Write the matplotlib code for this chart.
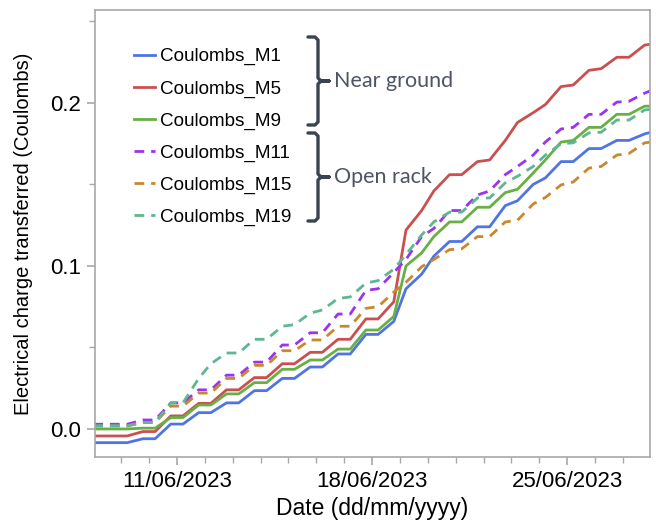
import matplotlib
matplotlib.use("Agg")
import matplotlib.pyplot as plt
import matplotlib.dates as mdates
from matplotlib.lines import Line2D
import pandas as pd

plt.rcParams['font.family'] = ['Liberation Sans', 'DejaVu Sans']

# sample times: start, then early-morning / evening points of each day, end
days = pd.date_range('2023-06-08', '2023-06-27', freq='D')
times = [pd.Timestamp('2023-06-08')]
for d in days:
    times += [d + pd.Timedelta(hours=5, minutes=15), d + pd.Timedelta(hours=18, minutes=45)]
times.append(pd.Timestamp('2023-06-28'))

# values (Coulombs)
m1 = [-0.0084, -0.0084, -0.0084, -0.0084, -0.006, -0.006, 0.003, 0.003, 0.010,
      0.010, 0.016, 0.016, 0.0235, 0.0235, 0.031, 0.031, 0.038, 0.038, 0.046,
      0.046, 0.058, 0.058, 0.066, 0.086, 0.095, 0.106, 0.115, 0.115, 0.124,
      0.124, 0.137, 0.140, 0.150, 0.154, 0.164, 0.164, 0.172, 0.172, 0.177,
      0.177, 0.181, 0.182]
m5 = [-0.0043, -0.0043, -0.0043, -0.0043, -0.0016, -0.0016, 0.008, 0.008, 0.0157,
      0.0157, 0.024, 0.024, 0.0315, 0.0315, 0.040, 0.040, 0.047, 0.047, 0.055,
      0.055, 0.0675, 0.0675, 0.078, 0.122, 0.134, 0.146, 0.156, 0.156, 0.164,
      0.165, 0.177, 0.188, 0.194, 0.199, 0.210, 0.211, 0.220, 0.221, 0.228,
      0.228, 0.2355, 0.236]
m9 = [0.0, 0.0, 0.0, 0.0, 0.0005, 0.0005, 0.007, 0.007, 0.0147,
      0.0147, 0.0215, 0.0215, 0.0284, 0.0284, 0.0366, 0.0366, 0.0423, 0.0423, 0.049,
      0.049, 0.0607, 0.0607, 0.069, 0.100, 0.108, 0.118, 0.127, 0.127, 0.136,
      0.136, 0.145, 0.147, 0.157, 0.165, 0.176, 0.177, 0.185, 0.185, 0.193,
      0.193, 0.198, 0.198]
m11 = [0.0029, 0.0029, 0.0029, 0.0029, 0.0055, 0.0055, 0.016, 0.016, 0.024,
       0.024, 0.033, 0.033, 0.041, 0.041, 0.0515, 0.0515, 0.059, 0.059, 0.0705,
       0.0705, 0.085, 0.086, 0.096, 0.104, 0.118, 0.123, 0.134, 0.134, 0.1435,
       0.146, 0.156, 0.161, 0.168, 0.176, 0.184, 0.185, 0.193, 0.193, 0.2005,
       0.201, 0.206, 0.2075]
m15 = [0.0018, 0.0018, 0.0018, 0.0018, 0.004, 0.004, 0.014, 0.014, 0.022,
       0.022, 0.031, 0.031, 0.039, 0.039, 0.048, 0.048, 0.0546, 0.0546, 0.063,
       0.063, 0.074, 0.075, 0.084, 0.090, 0.0995, 0.104, 0.110, 0.1105, 0.118,
       0.118, 0.127, 0.128, 0.138, 0.142, 0.1497, 0.1515, 0.160, 0.161, 0.168,
       0.169, 0.1755, 0.176]
m19 = [0.002, 0.002, 0.002, 0.002, 0.004, 0.004, 0.016, 0.016, 0.031,
       0.040, 0.0466, 0.0466, 0.055, 0.055, 0.063, 0.064, 0.071, 0.073, 0.080,
       0.081, 0.0895, 0.091, 0.098, 0.107, 0.119, 0.127, 0.133, 0.133, 0.1417,
       0.1417, 0.151, 0.155, 0.161, 0.168, 0.175, 0.1755, 0.1816, 0.182, 0.1895,
       0.1895, 0.1957, 0.196]

series = [
    ("Coulombs_M1", m1, "#4f74e3", "-"),
    ("Coulombs_M5", m5, "#c9504f", "-"),
    ("Coulombs_M9", m9, "#68b045", "-"),
    ("Coulombs_M11", m11, "#9a33f2", (0, (3.5, 2.5))),
    ("Coulombs_M15", m15, "#c9882c", (0, (3.5, 2.5))),
    ("Coulombs_M19", m19, "#5fb691", (0, (3.5, 2.5))),
]

fig = plt.figure(figsize=(6.56, 5.23), dpi=100)
ax = fig.add_axes([95/656, 1-457/523, 555/656, 447/523])

for name, vals, col, ls in series:
    ax.plot(times, vals, color=col, lw=2, ls=ls, label=name)

ax.set_xlim(pd.Timestamp('2023-06-08 01:30'), pd.Timestamp('2023-06-27 23:20'))
ax.set_ylim(-0.0172, 0.257)
ax.set_yticks([0.0, 0.1, 0.2])
ax.set_yticks([0.05, 0.15, 0.25], minor=True)
ax.yaxis.set_major_formatter(plt.FuncFormatter(lambda v, p: "%.1f" % v))
ax.xaxis.set_major_locator(mdates.DayLocator(bymonthday=[11, 18, 25]))
ax.xaxis.set_minor_locator(mdates.DayLocator())
ax.xaxis.set_major_formatter(mdates.DateFormatter('%d/%m/%Y'))

for s in ax.spines.values():
    s.set_color('#a8a8a8')
    s.set_linewidth(1.2)
ax.tick_params(which='major', length=6, width=1.2, color='#a8a8a8', labelsize=16, pad=4)
ax.tick_params(which='minor', length=4, width=1.0, color='#a8a8a8')

ax.set_xlabel("Date (dd/mm/yyyy)", fontsize=16.5, labelpad=4)
ax.set_ylabel("Electrical charge transferred (Coulombs)", fontsize=14.5, labelpad=12)

ax.legend(loc='upper left', bbox_to_anchor=(0.071, 0.915), frameon=False,
          fontsize=13.6, handlelength=1.1, handletextpad=0.25, labelspacing=0.78,
          borderpad=0, borderaxespad=0)


# grouping braces (pixel positions converted to axes fraction)
def px(x, y):
    return ((x - 95) / 555, (457 - y) / 447)


def brace(top, bot, label):
    mid = (top + bot) / 2
    pts = [(308, top), (315, top), (318, top + 3), (318, mid - 3), (321, mid), (329, mid),
           (321, mid), (318, mid + 3), (318, bot - 3), (315, bot), (308, bot)]
    xs, ys = zip(*[px(a, b) for a, b in pts])
    ax.add_line(Line2D(xs, ys, transform=ax.transAxes, color='#3c4350', lw=2.4,
                       solid_joinstyle='round', solid_capstyle='round', clip_on=False))
    tx, ty = px(334, mid)
    ax.text(tx, ty, label, transform=ax.transAxes, fontsize=15.5, color='#4d5563',
            family=['Lato', 'DejaVu Sans'], va='center', ha='left')


brace(37, 125, "Near ground")
brace(133, 221, "Open rack")

fig.savefig("out.png", dpi=100)
